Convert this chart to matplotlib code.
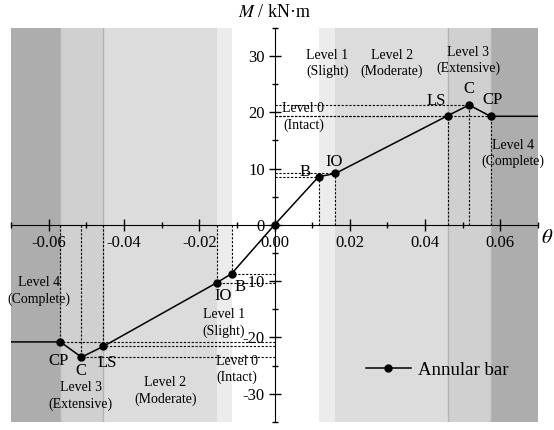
import matplotlib.pyplot as plt
from matplotlib.ticker import MultipleLocator, FixedFormatter, FixedLocator

plt.rcParams['font.family'] = ['Liberation Serif', 'DejaVu Serif']
plt.rcParams['mathtext.fontset'] = 'stix'

# skeleton curve of the annular bar (rotation, moment)
pos_names = ['B', 'IO', 'LS', 'C', 'CP']
pos_theta = [0.0117, 0.0162, 0.0460, 0.0517, 0.0574]
pos_moment = [8.55, 9.15, 19.4, 21.3, 19.3]

neg_names = ['B', 'IO', 'LS', 'C', 'CP']
neg_theta = [-0.0114, -0.0154, -0.0455, -0.0513, -0.0569]
neg_moment = [-8.67, -10.3, -21.6, -23.5, -20.8]

theta_end = 0.07

# damage level shading
level_colors = ['#ececec', '#dcdcdc', '#d0d0d0', '#adadad']

fig = plt.figure(figsize=(5.54, 4.3), dpi=100)
ax = fig.add_axes([0.02, 0.019, 0.951, 0.916])
ax.set_xlim(-0.07, 0.07)
ax.set_ylim(-35, 35)

for bounds in [pos_theta, [-t for t in neg_theta]]:
    sign = 1 if bounds is pos_theta else -1
    edges = [bounds[0], bounds[1], bounds[2], bounds[4], theta_end]
    for i in range(4):
        a, b = sorted([sign * edges[i], sign * edges[i + 1]])
        ax.axvspan(a, b, color=level_colors[i], lw=0, zorder=0)
    # thin border around the Level 3 band
    for e in (edges[2], edges[3]):
        ax.axvline(sign * e, color='#b4b4b4', lw=1.0, zorder=0.5)

# reference lines from each point to the axes
for th, m in zip(pos_theta + neg_theta, pos_moment + neg_moment):
    ax.plot([th, th], [0, m], ls=(0, (2, 1.5)), color='k', lw=0.8, zorder=2)
    ax.plot([0, th], [m, m], ls=(0, (2, 1.5)), color='k', lw=0.8, zorder=2)

xs = [-theta_end] + neg_theta[::-1] + [0.0] + pos_theta + [theta_end]
ys = [neg_moment[-1]] + neg_moment[::-1] + [0.0] + pos_moment + [pos_moment[-1]]
ax.plot(xs, ys, color='k', lw=1.1, zorder=3)
ax.plot(neg_theta[::-1] + [0.0] + pos_theta, neg_moment[::-1] + [0.0] + pos_moment,
        'o', color='k', ms=5, zorder=4)
ax.plot([], [], '-o', color='k', lw=1.1, ms=5, label='Annular bar')

# axes through the origin
for s in ['top', 'right']:
    ax.spines[s].set_visible(False)
ax.spines['left'].set_position(('data', 0))
ax.spines['bottom'].set_position(('data', 0))
ax.spines['left'].set_zorder(5)
ax.spines['bottom'].set_zorder(5)
ax.set_axisbelow(False)

xt = [-0.06, -0.04, -0.02, 0.0, 0.02, 0.04, 0.06]
ax.xaxis.set_major_locator(FixedLocator(xt))
ax.xaxis.set_major_formatter(FixedFormatter(['%.2f' % v for v in xt]))
ax.xaxis.set_minor_locator(MultipleLocator(0.01))
yt = [-30, -20, -10, 0, 10, 20, 30]
ax.yaxis.set_major_locator(FixedLocator(yt))
ax.yaxis.set_major_formatter(FixedFormatter([str(v) for v in yt]))
ax.yaxis.set_minor_locator(MultipleLocator(5))
ax.tick_params(which='major', direction='inout', length=8, width=1, labelsize=12, pad=3)
ax.tick_params(which='minor', direction='inout', length=5, width=1)

ax.text(0, 36.2, '$M$ / kN·m', ha='center', va='bottom', fontsize=13)
ax.text(0.0725, -2.4, r'$\theta$', ha='center', va='center', fontsize=15, clip_on=False)

# damage level labels
lv = dict(ha='center', va='center', fontsize=10, linespacing=1.3, zorder=6)
ax.text(0.0140, 28.7, 'Level 1\n(Slight)', **lv)
ax.text(0.0312, 28.7, 'Level 2\n(Moderate)', **lv)
ax.text(0.0515, 29.2, 'Level 3\n(Extensive)', **lv)
ax.text(0.0077, 19.2, 'Level 0\n(Intact)', **lv)
ax.text(0.0634, 12.7, 'Level 4\n(Complete)', **lv)
ax.text(-0.0626, -11.8, 'Level 4\n(Complete)', **lv)
ax.text(-0.0515, -30.4, 'Level 3\n(Extensive)', **lv)
ax.text(-0.0290, -29.5, 'Level 2\n(Moderate)', **lv)
ax.text(-0.0135, -17.4, 'Level 1\n(Slight)', **lv)
ax.text(-0.0099, -25.7, 'Level 0\n(Intact)', **lv)

# point labels
pl = dict(ha='center', va='center', fontsize=12, zorder=6)
for name, x, y in [('B', 0.0080, 9.4), ('IO', 0.0157, 11.2), ('LS', 0.0431, 22.1),
                   ('C', 0.0517, 24.2), ('CP', 0.0580, 22.2),
                   ('IO', -0.0137, -12.7), ('B', -0.0092, -11.0), ('CP', -0.0575, -24.2),
                   ('C', -0.0515, -26.0), ('LS', -0.0444, -24.6)]:
    ax.text(x, y, name, **pl)

ax.legend(loc='center', bbox_to_anchor=(0.0432, -25.8), bbox_transform=ax.transData,
          frameon=False, fontsize=13.5, handlelength=2.4, handletextpad=0.4)

fig.savefig('out.png', dpi=100)
